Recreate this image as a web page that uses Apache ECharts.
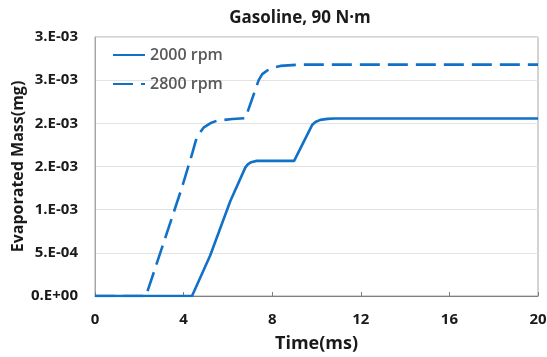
<!DOCTYPE html>
<html>
<head>
<meta charset="utf-8">
<script src="https://cdn.jsdelivr.net/npm/echarts@6/dist/echarts.min.js"></script>
<style>
html,body{margin:0;padding:0;background:#fff;}
#chart{width:547px;height:357px;}
</style>
</head>
<body>
<div id="chart"></div>
<script>
var titleText = 'Gasoline, 90 N\u00b7m';
var xTitle = 'Time(ms)';
var yTitle = 'Evaporated Mass(mg)';
var seriesNames = ['2000 rpm', '2800 rpm'];
var xTicks = [0, 4, 8, 12, 16, 20];
var yTickLabels = ['0.E+00', '5.E-04', '1.E-03', '2.E-03', '2.E-03', '3.E-03', '3.E-03'];

var t2000 = [0, 4.38, 5.2, 6.11, 6.79, 6.9, 7.05, 7.3, 8.99, 9.8, 9.95, 10.17, 10.5, 10.8, 20];
var v2000 = [0, 0, 0.47e-3, 1.1e-3, 1.49e-3, 1.525e-3, 1.55e-3, 1.565e-3, 1.565e-3, 1.98e-3, 2.015e-3, 2.04e-3, 2.052e-3, 2.056e-3, 2.056e-3];

var t2800 = [0, 2.3, 3.93, 4.4, 4.55, 4.7, 4.9, 5.2, 5.5, 6.2, 6.79, 7.39, 7.55, 7.76, 8.05, 8.37, 9.2, 20];
var v2800 = [0, 0, 1.26e-3, 1.66e-3, 1.8e-3, 1.88e-3, 1.95e-3, 2.0e-3, 2.03e-3, 2.05e-3, 2.06e-3, 2.50e-3, 2.57e-3, 2.61e-3, 2.645e-3, 2.665e-3, 2.68e-3, 2.68e-3];

function pairs(xs, ys) { return xs.map(function (x, i) { return [x, ys[i]]; }); }

var blue = '#1170C8';
var font = 'Open Sans';
var chart = echarts.init(document.getElementById('chart'));
chart.setOption({
  animation: false,
  backgroundColor: '#fff',
  title: {
    text: titleText, left: 295, top: 5, textAlign: 'center',
    textStyle: { fontFamily: font, fontWeight: 'bold', fontSize: 17, color: '#1a1a1a' }
  },
  legend: {
    left: 107, top: 42, orient: 'vertical', itemWidth: 32, itemHeight: 14, itemGap: 13,
    itemStyle: { color: 'rgba(0,0,0,0)', borderWidth: 0 },
    textStyle: { fontFamily: font, fontWeight: 600, fontSize: 16, color: '#595959' },
    data: seriesNames
  },
  grid: { left: 95, right: 9, top: 37, bottom: 61, show: true, borderColor: '#a6a6a6', borderWidth: 1,
    outerBoundsMode: 'none', containLabel: false },
  xAxis: {
    type: 'value', min: 0, max: 20, interval: 4,
    name: xTitle, nameLocation: 'middle', nameGap: 39, nameMoveOverlap: false,
    nameTextStyle: { fontFamily: font, fontWeight: 'bold', fontSize: 18, color: '#1a1a1a' },
    axisLine: { lineStyle: { color: '#7f7f7f', width: 1 } },
    axisTick: { inside: true, length: 4, lineStyle: { color: '#7f7f7f' } },
    axisLabel: { margin: 16, fontFamily: font, fontWeight: 'bold', fontSize: 15, color: '#1a1a1a',
      formatter: function (v) { return xTicks.indexOf(v) >= 0 ? String(v) : ''; } },
    splitLine: { show: false }
  },
  yAxis: {
    type: 'value', min: 0, max: 0.003, interval: 0.0005,
    name: yTitle, nameLocation: 'middle', nameGap: 69, nameRotate: 90, nameMoveOverlap: false,
    nameTextStyle: { fontFamily: font, fontWeight: 'bold', fontSize: 16, color: '#1a1a1a' },
    axisLine: { show: true, lineStyle: { color: '#a6a6a6' } },
    axisTick: { show: false },
    axisLabel: { margin: 17, fontFamily: font, fontWeight: 'bold', fontSize: 15, color: '#1a1a1a',
      formatter: function (v) { return yTickLabels[Math.round(v / 0.0005)]; } },
    splitLine: { lineStyle: { color: '#e3e3e3', width: 1 } }
  },
  series: [
    { name: seriesNames[0], type: 'line', data: pairs(t2000, v2000), showSymbol: false, symbol: 'none',
      smooth: false, lineStyle: { color: blue, width: 2.6 }, itemStyle: { color: blue } },
    { name: seriesNames[1], type: 'line', data: pairs(t2800, v2800), showSymbol: false, symbol: 'none',
      smooth: false, lineStyle: { color: blue, width: 2.6, type: [20, 8] }, itemStyle: { color: blue } }
  ]
});
</script>
</body>
</html>
